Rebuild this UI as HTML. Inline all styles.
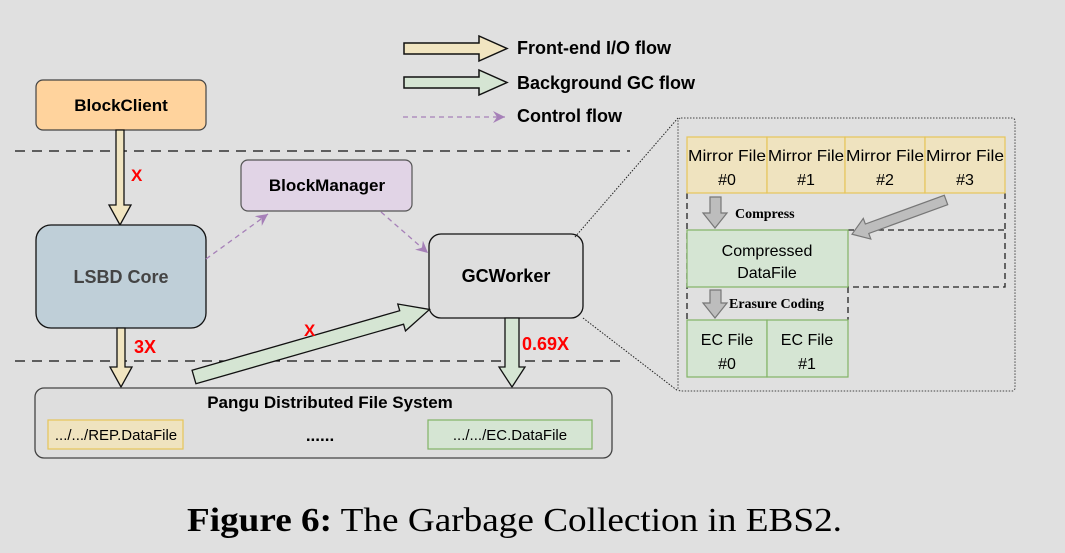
<!DOCTYPE html>
<html><head><meta charset="utf-8"><style>
html,body{margin:0;padding:0;background:#e0e0e0;}
svg{display:block;}
.s{font-family:"Liberation Sans",sans-serif;}
.b{font-family:"Liberation Sans",sans-serif;font-weight:bold;}
.sf{font-family:"Liberation Serif",serif;font-weight:bold;}
</style></head><body>
<svg width="1065" height="553" viewBox="0 0 1065 553" xmlns="http://www.w3.org/2000/svg">
<defs>
<marker id="pm" markerWidth="14" markerHeight="14" refX="12" refY="6" orient="auto" markerUnits="userSpaceOnUse"><path d="M0,0 L12,6 L0,12 L4,6 Z" fill="#a680b8"/></marker>
</defs>
<rect width="1065" height="553" fill="#e0e0e0"/>
<polygon points="404,43 479,43 479,36 507,48.5 479,61 479,54 404,54" fill="#f1e5c1" stroke="#111" stroke-width="1.5"/>
<polygon points="404,77 479,77 479,70 507,82.5 479,95 479,88 404,88" fill="#d5e5d3" stroke="#111" stroke-width="1.5"/>
<line x1="403" y1="117" x2="505" y2="117" stroke="#a680b8" stroke-width="1.3" stroke-dasharray="5,4" marker-end="url(#pm)"/>
<text x="517" y="54" class="b" font-size="18">Front-end I/O flow</text>
<text x="517" y="89" class="b" font-size="18">Background GC flow</text>
<text x="517" y="122" class="b" font-size="18">Control flow</text>
<line x1="15" y1="151" x2="630" y2="151" stroke="#111" stroke-width="1.3" stroke-dasharray="10,7"/>
<line x1="15" y1="361" x2="620" y2="361" stroke="#111" stroke-width="1.3" stroke-dasharray="10,7"/>
<rect x="36" y="80" width="170" height="50" rx="7" fill="#ffd39d" stroke="#444" stroke-width="1.2"/>
<text x="121" y="111" class="b" font-size="17" text-anchor="middle">BlockClient</text>
<polygon points="116,130 124,130 124,205 131,205 120,225 109,205 116,205" fill="#f1e5c1" stroke="#111" stroke-width="1.3"/>
<text x="131" y="181" class="b" font-size="17" fill="#ff0000">X</text>
<rect x="241" y="160" width="171" height="51" rx="7" fill="#e1d4e6" stroke="#555" stroke-width="1.2"/>
<text x="327" y="191" class="b" font-size="17" text-anchor="middle">BlockManager</text>
<rect x="36" y="225" width="170" height="103" rx="15" fill="#bfcfd8" stroke="#111" stroke-width="1.3"/>
<text x="121" y="283" class="b" font-size="18" fill="#444" text-anchor="middle">LSBD Core</text>
<line x1="206" y1="259" x2="268" y2="214" stroke="#a680b8" stroke-width="1.3" stroke-dasharray="5,4" marker-end="url(#pm)"/>
<line x1="381" y1="212" x2="428" y2="253" stroke="#a680b8" stroke-width="1.3" stroke-dasharray="5,4" marker-end="url(#pm)"/>
<rect x="429" y="234" width="154" height="84" rx="12" fill="#dedede" stroke="#111" stroke-width="1.3"/>
<text x="506" y="282" class="b" font-size="18" text-anchor="middle">GCWorker</text>
<polygon points="117,328 125,328 125,367 132,367 121,387 110,367 117,367" fill="#f1e5c1" stroke="#111" stroke-width="1.3"/>
<text x="134" y="353" class="b" font-size="18" fill="#ff0000">3X</text>
<g transform="translate(194,377) rotate(-16)">
<polygon points="0,-7 216,-7 216,-14 245,0 216,14 216,7 0,7" fill="#d5e5d3" stroke="#111" stroke-width="1.3"/>
</g>
<text x="304" y="336" class="b" font-size="17" fill="#ff0000">X</text>
<polygon points="505,318 519,318 519,367 525,367 512,387 499,367 505,367" fill="#d5e5d3" stroke="#111" stroke-width="1.3"/>
<text x="522" y="350" class="b" font-size="18" fill="#ff0000">0.69X</text>
<rect x="35" y="388" width="577" height="70" rx="9" fill="#dedede" stroke="#444" stroke-width="1.3"/>
<text x="330" y="408" class="b" font-size="17" text-anchor="middle">Pangu Distributed File System</text>
<rect x="48" y="420" width="135" height="29" fill="#efe3bf" stroke="#e6c55a" stroke-width="1.2"/>
<text x="116" y="440" class="s" font-size="15" text-anchor="middle">.../.../REP.DataFile</text>
<text x="320" y="441" class="b" font-size="17" text-anchor="middle">......</text>
<rect x="428" y="420" width="164" height="29" fill="#d5e5d3" stroke="#82b366" stroke-width="1.2"/>
<text x="510" y="440" class="s" font-size="15" text-anchor="middle">.../.../EC.DataFile</text>
<line x1="575" y1="237" x2="678" y2="118" stroke="#222" stroke-width="1" stroke-dasharray="1.5,1.5"/>
<line x1="583" y1="318" x2="678" y2="391" stroke="#222" stroke-width="1" stroke-dasharray="1.5,1.5"/>
<rect x="678" y="118" width="337" height="273" rx="3" fill="none" stroke="#444" stroke-width="1" stroke-dasharray="1.5,1.5"/>
<path d="M687,193 L687,320 M1005,193 L1005,287 L848,287 M848,230 L1005,230 M848,287 L848,320" fill="none" stroke="#222" stroke-width="1.3" stroke-dasharray="6,4"/>
<g fill="#efe3bf" stroke="#e6c55a" stroke-width="1.2">
<rect x="687" y="137" width="80" height="56"/><rect x="767" y="137" width="78" height="56"/>
<rect x="845" y="137" width="80" height="56"/><rect x="925" y="137" width="80" height="56"/>
</g>
<g class="s" font-size="16" text-anchor="middle">
<text x="727" y="161" textLength="78" lengthAdjust="spacingAndGlyphs">Mirror File</text><text x="727" y="185">#0</text>
<text x="806" y="161" textLength="76" lengthAdjust="spacingAndGlyphs">Mirror File</text><text x="806" y="185">#1</text>
<text x="885" y="161" textLength="78" lengthAdjust="spacingAndGlyphs">Mirror File</text><text x="885" y="185">#2</text>
<text x="965" y="161" textLength="78" lengthAdjust="spacingAndGlyphs">Mirror File</text><text x="965" y="185">#3</text>
</g>
<rect x="687" y="230" width="161" height="57" fill="#d5e5d3" stroke="#82b366" stroke-width="1.2"/>
<text x="767" y="256" class="s" font-size="16" text-anchor="middle">Compressed</text>
<text x="767" y="278" class="s" font-size="16" text-anchor="middle">DataFile</text>
<rect x="687" y="320" width="80" height="57" fill="#d5e5d3" stroke="#82b366" stroke-width="1.2"/>
<rect x="767" y="320" width="81" height="57" fill="#d5e5d3" stroke="#82b366" stroke-width="1.2"/>
<g class="s" font-size="16" text-anchor="middle">
<text x="727" y="345">EC File</text><text x="727" y="369">#0</text>
<text x="807" y="345">EC File</text><text x="807" y="369">#1</text>
</g>
<polygon points="710,197 721,197 721,213 727,213 715,228 703,213 710,213" fill="#bdbdbd" stroke="#777" stroke-width="1.2"/>
<polygon points="710,290 721,290 721,303 727,303 715,318 703,303 710,303" fill="#bdbdbd" stroke="#777" stroke-width="1.2"/>
<g transform="translate(946,200) rotate(160)">
<polygon points="0,-5 84,-5 84,-11 100,0 84,11 84,5 0,5" fill="#bdbdbd" stroke="#777" stroke-width="1.2"/>
</g>
<text x="735" y="218" class="sf" font-size="14">Compress</text>
<text x="729" y="308" class="sf" font-size="14">Erasure Coding</text>
<text x="187" y="531" font-family="Liberation Serif,serif" font-size="34" textLength="655" lengthAdjust="spacingAndGlyphs"><tspan font-weight="bold">Figure 6:</tspan> The Garbage Collection in EBS2.</text>
</svg>
</body></html>
